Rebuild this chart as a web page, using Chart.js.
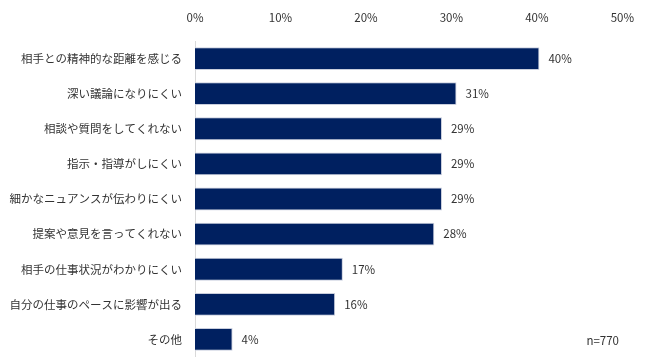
<!DOCTYPE html>
<html>
<head>
<meta charset="utf-8">
<script src="https://cdn.jsdelivr.net/npm/chart.js@4"></script>
<style>
html,body{margin:0;padding:0;background:#fff;}
#wrap{width:650px;height:357px;position:relative;}
</style>
</head>
<body>
<div id="wrap"><canvas id="c" width="650" height="357"></canvas></div>
<script>
const categories = [
  "相手との精神的な距離を感じる",
  "深い議論になりにくい",
  "相談や質問をしてくれない",
  "指示・指導がしにくい",
  "細かなニュアンスが伝わりにくい",
  "提案や意見を言ってくれない",
  "相手の仕事状況がわかりにくい",
  "自分の仕事のペースに影響が出る",
  "その他"
];
const values = [40.3, 30.6, 28.9, 28.9, 28.9, 28.0, 17.3, 16.4, 4.4];
const valueLabels = ["40%", "31%", "29%", "29%", "29%", "28%", "17%", "16%", "4%"];
const xTicks = [0, 10, 20, 30, 40, 50];
const sampleNote = "n=770";

const FONT = '"Noto Sans CJK JP", "Noto Sans", sans-serif';

const labelPlugin = {
  id: 'valueLabels',
  afterDatasetsDraw(chart) {
    const ctx = chart.ctx;
    const meta = chart.getDatasetMeta(0);
    ctx.save();
    ctx.font = '11.5px ' + FONT;
    ctx.fillStyle = '#333';
    ctx.textAlign = 'left';
    ctx.textBaseline = 'middle';
    meta.data.forEach((bar, i) => {
      ctx.fillText(valueLabels[i], bar.x + 9, bar.y);
    });
    ctx.textAlign = 'right';
    ctx.fillText(sampleNote, 619, 341);
    ctx.restore();
  }
};

new Chart(document.getElementById('c'), {
  type: 'bar',
  data: {
    labels: categories,
    datasets: [{
      data: values,
      backgroundColor: '#002060',
      borderColor: '#c9cedd',
      borderWidth: 1,
      barPercentage: 0.65,
      categoryPercentage: 1.0
    }]
  },
  options: {
    indexAxis: 'y',
    responsive: false,
    animation: false,
    layout: { padding: { left: 0, right: 27, top: 0, bottom: 0 } },
    plugins: { legend: { display: false }, tooltip: { enabled: false } },
    scales: {
      x: {
        position: 'top',
        min: 0, max: 50,
        afterBuildTicks(scale) { scale.ticks = xTicks.map(v => ({ value: v })); },
        afterFit(scale) { scale.height = 41; scale.paddingLeft = 0; },
        grid: { display: false, drawTicks: false },
        border: { display: false },
        ticks: {
          padding: 16,
          color: '#333',
          font: { family: FONT, size: 11.5 },
          callback: v => v + '%'
        }
      },
      y: {
        afterFit(scale) { scale.width = 195; scale.paddingTop = 0; scale.paddingBottom = 0; },
        grid: { display: false, drawTicks: false },
        border: { display: true, color: '#d9d9d9', width: 1 },
        ticks: {
          padding: 13,
          color: '#333',
          font: { family: FONT, size: 11.5 }
        }
      }
    }
  },
  plugins: [labelPlugin]
});
</script>
</body>
</html>
